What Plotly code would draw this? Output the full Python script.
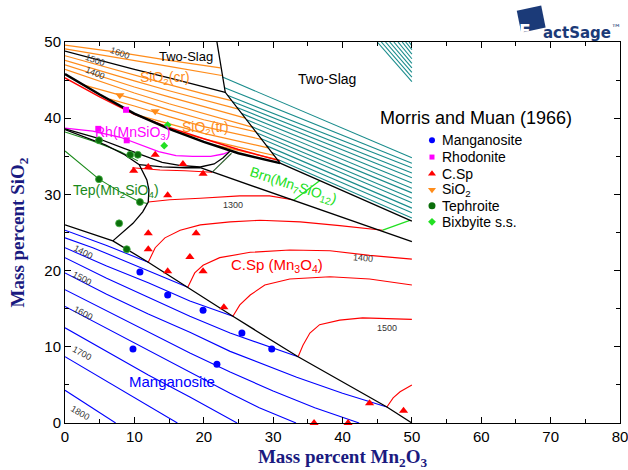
import plotly.graph_objects as go

# ---------------- phase boundaries (black) ----------------
bA_x = [0, 5, 10, 15, 20, 23.1]
bA_y = [48.8, 47.6, 46.4, 45.3, 44.1, 43.4]
bB_x = [21.9, 23.1, 31.0]
bB_y = [50.0, 43.4, 34.1]
bC_x = [0, 5, 10, 15, 20, 25, 31.0]
bC_y = [45.8, 43.1, 40.6, 38.6, 36.9, 35.4, 34.1]
bRh_x = [0, 4.3, 8.6, 11.5, 14, 16.5, 19.5, 21.5, 22.8, 23.8]
bRh_y = [38.6, 37.5, 36.0, 35.0, 34.2, 33.8, 33.6, 34.0, 34.8, 35.7]
bTep_x = [0, 5.8, 8.6, 10.7, 11.8, 12.1, 12.0, 11.2, 9.8, 8.2, 6.9]
bTep_y = [38.5, 36.5, 35.2, 33.9, 31.9, 30.6, 29.0, 27.7, 26.2, 24.9, 23.9]
bSp_x = [10.7, 14, 17.3, 19.5]
bSp_y = [33.9, 33.6, 33.5, 33.5]
bD_x = [19.5, 50.0]
bD_y = [33.5, 23.8]
bE_x = [31.0, 50.0]
bE_y = [34.1, 26.5]
bF_x = [0, 6.9, 12.0, 17.7, 24.2, 33.6, 46.4, 50.0]
bF_y = [26.0, 23.9, 21.1, 17.8, 14.0, 8.7, 2.1, 0.0]

# ---------------- isotherms ----------------
mn_iso_x = [[0, 6, 12.0], [0, 4, 8, 13, 17.7], [0, 6, 12, 18, 24.2],
            [0, 6, 12, 18, 23.8, 29.8, 33.6], [0, 6, 12, 18, 23.8, 33.4, 40, 46.4],
            [0, 6, 12, 18, 23.8, 30, 36, 42.4], [0, 6, 12, 18, 23.8, 28, 33.3],
            [0, 6, 12, 18, 24.8], [0, 5, 10, 16.2], [0, 3.5, 7.3]]
mn_iso_y = [[25.3, 23.3, 21.1], [24.3, 23.0, 21.5, 19.6, 17.8], [23.0, 20.6, 18.4, 16.0, 14.0],
            [21.7, 19.0, 16.5, 14.0, 11.8, 9.9, 8.7], [19.7, 16.9, 14.3, 11.9, 9.4, 6.0, 3.9, 2.1],
            [17.5, 14.7, 12.0, 9.2, 6.7, 4.2, 2.0, 0], [15.3, 12.4, 9.5, 6.6, 3.9, 2.0, 0],
            [12.5, 9.4, 6.3, 3.4, 0], [8.7, 6.0, 3.3, 0], [4.3, 2.2, 0]]

sp_iso_x = [[9.7, 13.7, 17.3, 21.2],
            [12.0, 15.1, 19.5, 25.2, 29.5, 32.8],
            [12.0, 13.0, 14.4, 16.6, 19.5, 23.8, 28.1, 33.9, 39.6, 45.8],
            [17.7, 18.7, 19.9, 22.3, 26.7, 32.4, 38.2, 43.9, 50.0],
            [24.2, 25.2, 26.7, 28.8, 32.4, 38.2, 43.9, 50.0],
            [33.6, 34.3, 35.3, 36.7, 39.6, 42.9, 50.0],
            [46.4, 47.3, 48.3, 50.0]]
sp_iso_y = [[33.5, 33.2, 33.1, 32.9],
            [29.0, 29.3, 29.5, 29.8, 29.8, 29.3],
            [21.1, 23.0, 24.3, 25.3, 26.0, 26.4, 26.6, 26.4, 25.9, 25.3],
            [17.8, 19.7, 20.7, 21.7, 22.4, 22.7, 22.6, 22.0, 21.5],
            [14.0, 15.5, 16.8, 18.1, 18.9, 19.2, 18.9, 18.1],
            [8.7, 10.2, 11.8, 12.9, 13.5, 13.8, 13.6],
            [2.1, 3.3, 4.1, 5.0]]
sp_edge_x = [0, 5, 10, 15, 20, 25, 31.0]
sp_edge_y = [45.3, 42.8, 40.5, 38.8, 37.3, 35.9, 34.4]

si_iso_x = [[0, 8, 15, 22.4], [0, 8, 15, 22.6], [0, 5, 10, 15, 20, 24.0],
            [0, 5, 10, 15, 20, 25.0], [0, 5, 10, 15, 20, 26.0], [0, 5, 10, 15, 20, 27.1],
            [2.5, 5, 10, 15, 20, 27.6], [6.5, 10, 15, 20, 28.4], [10.5, 15, 20, 29.3],
            [15.5, 20, 25, 30.2], [21, 25, 30.6]]
si_iso_y = [[49.6, 48.6, 47.6, 46.6], [49.1, 47.9, 46.8, 45.6], [48.2, 46.9, 45.6, 44.4, 43.2, 42.3],
            [47.6, 46.2, 44.9, 43.6, 42.4, 41.2], [47.0, 45.5, 44.1, 42.8, 41.5, 40.0],
            [46.4, 44.8, 43.3, 41.9, 40.6, 38.8], [44.4, 43.8, 42.5, 41.1, 39.8, 38.2],
            [42.5, 41.6, 40.2, 38.9, 37.2], [40.4, 39.3, 38.0, 36.1], [38.4, 37.3, 36.2, 35.1],
            [36.6, 35.8, 34.6]]

ts_start_x = [22.7, 23.0, 23.4, 24.1, 24.8, 25.5, 26.2, 26.9, 27.6, 28.3, 29.0, 29.8, 30.6]
ts_start_y = [45.4, 44.0, 43.0, 42.2, 41.4, 40.6, 39.8, 38.9, 38.1, 37.3, 36.4, 35.5, 34.6]
ts_end_y = [34.8, 34.1, 33.5, 32.8, 32.2, 31.5, 30.8, 30.2, 29.5, 28.9, 28.2, 27.6, 26.9]
ts_corner_top_x = [45.0, 45.6, 46.2, 46.8, 47.4, 48.0, 48.6, 49.1, 49.6]
ts_corner_right_y = [44.8, 45.4, 46.0, 46.6, 47.2, 47.8, 48.4, 49.0, 49.5]

rh_iso_x = [0, 4, 8, 11, 13.5, 16, 18.4, 21, 22.8, 23.6]
rh_iso_y = [38.7, 38.3, 37.5, 36.5, 35.6, 35.1, 35.0, 35.0, 35.3, 35.6]
tep_iso_x = [[0, 4, 8, 10.5], [0, 4.9, 8, 10.8, 11.9]]
tep_iso_y = [[38.2, 37.0, 35.6, 34.4], [35.7, 32.0, 30.3, 29.0, 28.8]]
tie_dk_x = [21.3, 24.0]
tie_dk_y = [33.0, 35.4]
brn_iso_x = [[32.9, 36.7], [45.8, 49.7]]
brn_iso_y = [[29.2, 31.8], [25.3, 26.6]]

# ---------------- experimental points (Morris and Muan 1966) ----------------
mang_x = [10.8, 14.8, 19.9, 25.5, 29.8, 9.8, 21.9]
mang_y = [19.8, 16.8, 14.8, 11.8, 9.7, 9.7, 7.7]
rhod_x = [8.8, 4.8, 8.9]
rhod_y = [41.1, 38.6, 37.1]
csp_x = [13.0, 17.0, 9.9, 12.0, 19.9, 14.8, 12.0, 18.9, 12.0, 18.0, 14.8, 19.9, 22.9, 43.9, 48.8, 35.9, 40.8]
csp_y = [35.2, 34.0, 33.1, 33.6, 32.7, 29.9, 24.9, 24.9, 22.8, 21.8, 19.9, 19.9, 15.2, 2.6, 1.6, 0.0, 0.0]
sio2_x = [7.9, 13.0]
sio2_y = [43.0, 40.9]
teph_x = [4.9, 9.4, 10.5, 4.9, 10.8, 7.8, 8.9]
teph_y = [37.1, 35.2, 35.2, 32.0, 29.0, 26.2, 22.8]
bixb_x = [14.3, 14.8]
bixb_y = [36.4, 39.1]

legend_names = ["Manganosite", "Rhodonite", "C.Sp", "SiO<sub>2</sub>", "Tephroite", "Bixbyite s.s."]

# ---------------- colours ----------------
BLACK = "#000000"
BLUE = "#0000ff"
RED = "#ff0000"
ORANGE = "#ff8c1a"
TEAL = "#1a8c8c"
MAGENTA = "#ff00ff"
DKGREEN = "#1a8a1a"
LTGREEN = "#22e022"
NAVY = "#1a1a80"
LOGO = "#1b3a78"


def joined(xs_list, ys_list):
    X, Y = [], []
    for xs, ys in zip(xs_list, ys_list):
        X += list(xs) + [None]
        Y += list(ys) + [None]
    return X, Y


fig = go.Figure()


def add_lines(xs_list, ys_list, color, width):
    X, Y = joined(xs_list, ys_list)
    fig.add_trace(go.Scatter(x=X, y=Y, mode="lines", line=dict(color=color, width=width),
                             hoverinfo="skip", showlegend=False))


# isotherms
add_lines(si_iso_x, si_iso_y, ORANGE, 1.2)
ts_x = [[sx, 50.0] for sx in ts_start_x] + [[tx, 50.0] for tx in ts_corner_top_x]
ts_y = [[sy, ey] for sy, ey in zip(ts_start_y, ts_end_y)] + [[50.0, ry] for ry in ts_corner_right_y]
add_lines(ts_x, ts_y, TEAL, 1.1)
add_lines(mn_iso_x, mn_iso_y, BLUE, 1.1)
add_lines(sp_iso_x, sp_iso_y, RED, 1.1)
add_lines([sp_edge_x], [sp_edge_y], RED, 1.5)
add_lines([rh_iso_x], [rh_iso_y], MAGENTA, 1.3)
add_lines(tep_iso_x, tep_iso_y, DKGREEN, 1.1)
add_lines([tie_dk_x], [tie_dk_y], "#2a5a2a", 1.1)
add_lines(brn_iso_x, brn_iso_y, LTGREEN, 1.3)

# phase boundaries
add_lines([bA_x, bB_x, bRh_x, bTep_x, bSp_x, bD_x, bE_x, bF_x],
          [bA_y, bB_y, bRh_y, bTep_y, bSp_y, bD_y, bE_y, bF_y], BLACK, 1.3)
add_lines([bC_x], [bC_y], BLACK, 2.4)


def add_pts(xs, ys, symbol, color, size, line_color=None):
    fig.add_trace(go.Scatter(x=xs, y=ys, mode="markers", cliponaxis=False,
                             marker=dict(symbol=symbol, color=color, size=size,
                                         line=dict(width=0.8 if line_color else 0,
                                                   color=line_color or color)),
                             hoverinfo="skip", showlegend=False))


add_pts(mang_x, mang_y, "circle", BLUE, 7)
add_pts(rhod_x, rhod_y, "square", MAGENTA, 6)
add_pts(csp_x, csp_y, "triangle-up", RED, 8)
add_pts(sio2_x, sio2_y, "triangle-down", ORANGE, 8)
add_pts(teph_x, teph_y, "circle", "#0b6e0b", 7, "#3fae3f")
add_pts(bixb_x, bixb_y, "diamond", LTGREEN, 6)

# legend (custom, placed inside plot)
leg_x = 52.9
leg_y = [37.1, 34.9, 32.7, 30.6, 28.5, 26.4]
leg_sym = ["circle", "square", "triangle-up", "triangle-down", "circle", "diamond"]
leg_col = [BLUE, MAGENTA, RED, ORANGE, "#0b6e0b", LTGREEN]
leg_size = [6, 5, 7, 7, 7, 6]
for yy, s, c, sz in zip(leg_y, leg_sym, leg_col, leg_size):
    fig.add_trace(go.Scatter(x=[leg_x], y=[yy], mode="markers",
                             marker=dict(symbol=s, color=c, size=sz), hoverinfo="skip",
                             showlegend=False))

FONT = "Liberation Sans, Arial, sans-serif"
ann = []
ann.append(dict(x=59.2, y=40.0, text="Morris and Muan (1966)", font=dict(size=18, color="black")))
for yy, nm in zip(leg_y, legend_names):
    ann.append(dict(x=54.0, y=yy, text=nm, xanchor="left", font=dict(size=14, color="black")))

# field labels
ann += [
    dict(x=17.4, y=48.1, text="Two-Slag", font=dict(size=13, color="black")),
    dict(x=37.8, y=45.1, text="Two-Slag", font=dict(size=14, color="black")),
    dict(x=14.4, y=45.3, text="SiO<sub>2</sub>(cr)", font=dict(size=14, color=ORANGE)),
    dict(x=20.2, y=38.7, text="SiO<sub>2</sub>(tr)", font=dict(size=14, color=ORANGE)),
    dict(x=9.8, y=38.1, text="Rh(MnSiO<sub>3</sub>)", font=dict(size=14, color=MAGENTA)),
    dict(x=7.3, y=30.4, text="Tep(Mn<sub>2</sub>SiO<sub>4</sub>)", font=dict(size=14, color=DKGREEN)),
    dict(x=32.9, y=31.1, text="Brn(Mn<sub>7</sub>SiO<sub>12</sub>)", textangle=18,
         font=dict(size=14, color=LTGREEN)),
    dict(x=30.5, y=20.7, text="C.Sp (Mn<sub>3</sub>O<sub>4</sub>)", font=dict(size=15, color=RED)),
    dict(x=15.4, y=5.4, text="Manganosite", font=dict(size=15, color=BLUE)),
]
# isotherm temperature labels
iso_lab = [(2.6, 22.4, "1400", 28), (2.4, 19.0, "1500", 28), (2.6, 14.4, "1600", 28),
           (2.4, 9.2, "1700", 28), (2.2, 1.3, "1800", 30),
           (7.9, 48.6, "1600", 20), (4.3, 47.6, "1500", 20), (4.3, 45.9, "1400", 22),
           (24.2, 28.6, "1300", 0), (42.9, 21.7, "1400", 5), (46.4, 12.5, "1500", 0)]
for x0, y0, t, a in iso_lab:
    ann.append(dict(x=x0, y=y0, text=t, textangle=a, font=dict(size=9, color="#333333")))

for a in ann:
    a.setdefault("xref", "x")
    a.setdefault("yref", "y")
    a["showarrow"] = False
    a["font"]["family"] = FONT

# FactSage logo: white "F" on the navy icon, then "actSage"
ann.append(dict(xref="paper", yref="paper", x=0.843, y=1.06, showarrow=False,
                text="<b>F</b>",
                font=dict(family="DejaVu Sans, sans-serif", size=17, color="white")))
ann.append(dict(xref="paper", yref="paper", x=0.858, y=1.058, xanchor="left", showarrow=False,
                text="<b>actSage</b><sup>™</sup>",
                font=dict(family="DejaVu Sans, sans-serif", size=15, color=LOGO)))

fig.update_layout(
    width=628, height=470, autosize=False,
    margin=dict(l=65, r=8, t=42, b=47, autoexpand=False),
    paper_bgcolor="white", plot_bgcolor="white",
    annotations=ann,
    shapes=[dict(type="path", xref="paper", yref="paper", layer="below",
                 path="M 0.814 1.082 L 0.858 1.096 L 0.866 1.038 L 0.822 1.024 Z",
                 fillcolor=LOGO, line=dict(width=0))],
    font=dict(family=FONT, color="black"),
)
axis_common = dict(showline=True, linecolor="black", linewidth=1, mirror="ticks",
                   ticks="inside", ticklen=6, tickwidth=1, tickcolor="black",
                   showgrid=False, zeroline=False, automargin=False,
                   ticklabeloverflow="allow",
                   minor=dict(ticks="inside", ticklen=4, dtick=5, tickcolor="black"),
                   tickfont=dict(family=FONT, size=15, color="black"))
fig.update_xaxes(range=[0, 80], dtick=10, tick0=0,
                 title=dict(text="<b>Mass percent Mn<sub>2</sub>O<sub>3</sub></b>", standoff=6,
                            font=dict(family="Liberation Serif, Times New Roman, serif", size=19, color=NAVY)),
                 **axis_common)
fig.update_yaxes(range=[0, 50], dtick=10, tick0=0,
                 title=dict(text="<b>Mass percent SiO<sub>2</sub></b>", standoff=14,
                            font=dict(family="Liberation Serif, Times New Roman, serif", size=19, color=NAVY)),
                 **axis_common)

fig.write_html(
    "out.html",
    config={"displayModeBar": False, "responsive": False},
    post_script=("document.body.style.margin='0';document.body.style.overflow='hidden';"
                 "var gd=document.getElementById('{plot_id}');"
                 "Plotly.relayout(gd,{width:628,height:470});"),
)
